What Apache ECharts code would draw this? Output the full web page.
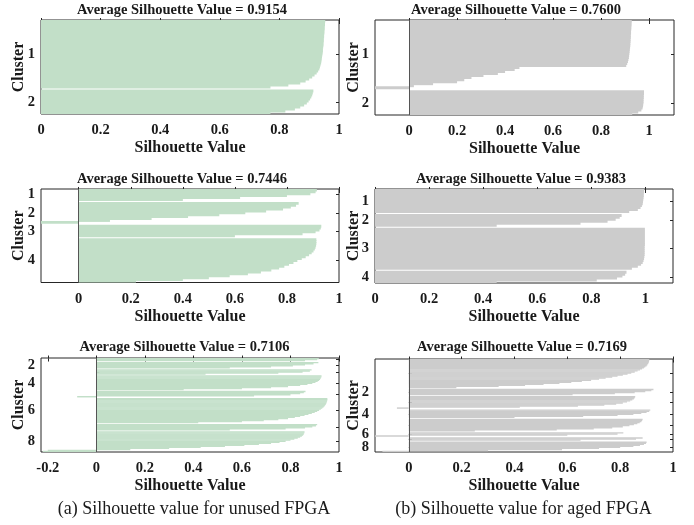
<!DOCTYPE html>
<html><head><meta charset="utf-8">
<script src="https://cdn.jsdelivr.net/npm/echarts@6/dist/echarts.min.js"></script>
<style>html,body{margin:0;padding:0;background:#fff}#c{width:694px;height:525px}</style>
</head><body><div id="c"></div>
<script>
// ---------- DATA (silhouette values per cluster, sorted as in the plot) ----------
const TITLES = ['Average Silhouette Value = 0.9154','Average Silhouette Value = 0.7600',
                'Average Silhouette Value = 0.7446','Average Silhouette Value = 0.9383',
                'Average Silhouette Value = 0.7106','Average Silhouette Value = 0.7169'];
const X_TICKS = [-0.2, 0, 0.2, 0.4, 0.6, 0.8, 1];
const CAPTIONS = ['(a) Silhouette value for unused FPGA', '(b) Silhouette value for aged FPGA'];

// Panel 1 (unused, k=2)
const u2_c1 = [0.954,0.953,0.953,0.952,0.952,0.951,0.951,0.950,0.950,0.949,0.949,0.948,0.948,0.947,0.946,0.946,
               0.945,0.944,0.943,0.942,0.941,0.940,0.938,0.936,0.934,0.930,0.925,0.918,0.910,0.900,0.888,0.870,0.830,0.770];
const u2_c2 = [0.914,0.912,0.910,0.907,0.903,0.898,0.892,0.883,0.870,0.852,0.820,0.770];
// Panel 2 (aged, k=2)
const a2_c1 = [0.928,0.927,0.927,0.926,0.926,0.925,0.925,0.924,0.924,0.923,0.923,0.922,0.922,0.921,0.920,0.919,
               0.918,0.917,0.916,0.914,0.912,0.909,0.905,0.46,0.44,0.40,0.37,0.31,0.26,0.23,0.20,0.10,0.02,-0.16];
const a2_c2 = [0.979,0.979,0.978,0.978,0.977,0.977,0.976,0.975,0.973,0.968,0.955,0.930];
// Panel 3 (unused, k=4)
const u4_c1 = [0.915,0.910,0.890,0.800,0.620,0.400];
const u4_c2 = [0.845,0.835,0.815,0.785,0.720,0.640,0.540,0.420,0.280,0.120,-0.200];
const u4_c3 = [0.932,0.930,0.925,0.910,0.860,0.600];
const u4_c4 = [0.913,0.913,0.913,0.912,0.910,0.907,0.902,0.895,0.885,0.872,0.857,0.840,0.825,0.808,0.790,0.770,
               0.740,0.700,0.650,0.580,0.500,0.400,0.220];
// Panel 4 (aged, k=4)
const a4_c1 = [0.995,0.995,0.994,0.994,0.993,0.992,0.991,0.990,0.987,0.982,0.972,0.940];
const a4_c2 = [0.912,0.905,0.890,0.860,0.760,0.450];
const a4_c3 = [0.998,0.998,0.998,0.998,0.998,0.998,0.998,0.998,0.998,0.997,0.997,0.997,0.997,0.997,0.996,0.995,
               0.993,0.990,0.984,0.972,0.950];
const a4_c4 = [0.930,0.925,0.915,0.895,0.820,0.450];
// Panel 5 (unused, k=8)
const u8_c1 = [0.917,0.910,0.860];
const u8_c2 = [0.915,0.895,0.860,0.810,0.720,0.550];
const u8_c3 = [0.887,0.880,0.850,0.750,0.450];
const u8_c4 = [0.928,0.927,0.925,0.922,0.918,0.912,0.903,0.890,0.870,0.840,0.790,0.720,0.600,0.360];
const u8_c5 = [0.862,0.855,0.840,0.800,0.650,-0.079];
const u8_c6 = [0.952,0.952,0.951,0.950,0.948,0.946,0.943,0.940,0.936,0.931,0.925,0.918,0.910,0.900,0.888,0.874,
               0.858,0.840,0.818,0.790,0.750,0.690,0.600,0.420];
const u8_c7 = [0.910,0.905,0.890,0.860,0.780,0.550];
const u8_c8 = [0.858,0.857,0.855,0.852,0.847,0.840,0.830,0.816,0.800,0.780,0.755,0.720,0.670,0.610,0.530,0.430,
               0.300,0.140,-0.200,-0.220];
// Panel 6 (aged, k=8)
const a8_c1 = [0.910,0.910,0.909,0.908,0.906,0.903,0.900,0.895,0.890,0.883,0.875,0.866,0.855,0.842,0.828,0.810,
               0.790,0.770,0.745,0.720,0.690,0.655,0.615,0.570,0.510,0.440,0.340,0.180];
const a8_c2 = [0.926,0.918,0.895,0.855,0.780,0.620];
const a8_c3 = [0.857,0.855,0.852,0.846,0.838,0.826,0.810,0.785,0.740,0.640,0.420,-0.045];
const a8_c4 = [0.914,0.910,0.900,0.880,0.850,0.790,0.660,0.400];
const a8_c5 = [0.885,0.883,0.880,0.874,0.865,0.852,0.835,0.810,0.770,0.700,0.560,0.250];
const a8_c6 = [0.812,0.790,0.600,-0.160];
const a8_c7 = [0.885,0.860,0.650];
const a8_c8 = [0.900,0.898,0.890,0.875,0.850,0.800,0.720,0.580,0.300,-0.100];

const X_RANGES = [[0,1],[-0.142,1.104],[-0.145,1],[0,1.102],[-0.228,1],[-0.128,1]];
const CLUSTER_LABELS_SHOWN = [[1,2],[1,2],[1,2,3,4],[1,2,3,4],[2,4,6,8],[2,4,6,8]];

// ---------- STYLE / LAYOUT ----------
const GREEN = '#c2dfc8', GRAY = '#cccccc', INK = '#1a1a1a';
const FONT = '"Liberation Serif", "Times New Roman", serif';
const LAYOUT = [
  {box:[41,20,298,94],  tx:182,   ty:10,    color:GREEN, bw:'150%'},
  {box:[375,20,299,95], tx:516,   ty:10,    color:GRAY,  bw:'150%'},
  {box:[41,189,298,93.5], tx:182, ty:179,   color:GREEN, bw:'150%'},
  {box:[375,189,298,94], tx:521,  ty:179.5, color:GRAY,  bw:'150%'},
  {box:[41,358,298,94], tx:184.5, ty:347.5, color:GREEN, bw:'140%'},
  {box:[375,359,298,93], tx:522,  ty:347,   color:GRAY,  bw:'140%'}
];
const CLUSTERS = [[u2_c1,u2_c2],[a2_c1,a2_c2],[u4_c1,u4_c2,u4_c3,u4_c4],[a4_c1,a4_c2,a4_c3,a4_c4],
  [u8_c1,u8_c2,u8_c3,u8_c4,u8_c5,u8_c6,u8_c7,u8_c8],[a8_c1,a8_c2,a8_c3,a8_c4,a8_c5,a8_c6,a8_c7,a8_c8]];

const option = {animation:false, backgroundColor:'#fff', grid:[], xAxis:[], yAxis:[], series:[], graphic:[]};
const fmtX = v => String(Math.round(v*10)/10);
const tickStyle = {color:'#262626', width:1};

CLUSTERS.forEach((clusters, i) => {
  const L = LAYOUT[i];
  const rows = [], centers = [];
  clusters.forEach((c, k) => {
    if (k) rows.push(null);
    const s = rows.length;
    c.forEach(v => rows.push(v));
    centers.push((s + rows.length - 1) / 2);
  });
  const N = rows.length;
  const [xmin, xmax] = X_RANGES[i];
  const xt = X_TICKS.filter(v => v >= xmin - 1e-9 && v <= xmax + 1e-9);
  option.grid.push({left:L.box[0], top:L.box[1], width:L.box[2], height:L.box[3], show:true,
                    borderColor:'#262626', borderWidth:1, backgroundColor:'#fff'});
  const xi = option.xAxis.length;
  option.xAxis.push({type:'value', gridIndex:i, min:xmin, max:xmax, position:'bottom',
    axisLine:{show:false}, splitLine:{show:false},
    axisTick:{show:true, inside:true, length:3, customValues:xt, lineStyle:tickStyle},
    axisLabel:{customValues:xt, formatter:fmtX, fontFamily:FONT, fontWeight:'bold', fontSize:14.5, color:INK, margin:9}});
  option.xAxis.push({type:'value', gridIndex:i, min:xmin, max:xmax, position:'top',
    axisLine:{show:false}, splitLine:{show:false},
    axisTick:{show:true, inside:true, length:3, customValues:xt, lineStyle:tickStyle}, axisLabel:{show:false}});
  const yi = option.yAxis.length;
  option.yAxis.push({type:'category', gridIndex:i, inverse:true, data:rows.map((_, j) => String(j)), show:false});
  const shown = CLUSTER_LABELS_SHOWN[i].map(n => centers[n-1]);
  const fmtY = v => { let b = 0; centers.forEach((c, k) => { if (Math.abs(c - v) < Math.abs(centers[b] - v)) b = k; }); return String(b + 1); };
  const labelStyle = {formatter:fmtY, fontFamily:FONT, fontWeight:'bold', fontSize:14.5, color:INK, margin:6,
                      showMinLabel:true, showMaxLabel:true};
  // labels split over two overlaid left axes so close labels are never dropped
  option.yAxis.push({type:'value', gridIndex:i, inverse:true, min:-0.5, max:N-0.5, position:'left',
    axisLine:{show:false}, splitLine:{show:false},
    axisTick:{show:true, inside:true, length:3, customValues:centers, lineStyle:tickStyle},
    axisLabel:Object.assign({customValues:shown.filter((_, j) => j % 2 === 0)}, labelStyle)});
  option.yAxis.push({type:'value', gridIndex:i, inverse:true, min:-0.5, max:N-0.5, position:'left', offset:0,
    axisLine:{show:false}, splitLine:{show:false}, axisTick:{show:false},
    axisLabel:Object.assign({customValues:shown.filter((_, j) => j % 2 === 1)}, labelStyle)});
  option.yAxis.push({type:'value', gridIndex:i, inverse:true, min:-0.5, max:N-0.5, position:'right',
    axisLine:{show:false}, splitLine:{show:false},
    axisTick:{show:true, inside:true, length:3, customValues:centers, lineStyle:tickStyle}, axisLabel:{show:false}});
  const s = {type:'bar', xAxisIndex:xi, yAxisIndex:yi, data:rows, barWidth:L.bw, barGap:'0%',
    itemStyle:{color:L.color, borderWidth:0}, silent:true};
  if (xmin < 0) {
    s.markLine = {silent:true, symbol:['none','none'], label:{show:false},
      lineStyle:{color:'#555', width:1, type:'solid'}, data:[{xAxis:0}]};
  }
  option.series.push(s);

  const cx = L.box[0] + L.box[2] / 2, cy = L.box[1] + L.box[3] / 2, bottom = L.box[1] + L.box[3];
  option.graphic.push({type:'text', x:L.tx, y:L.ty, style:{text:TITLES[i], font:'bold 14.5px ' + FONT, fill:INK,
    align:'center', verticalAlign:'middle', textAlign:'center', textVerticalAlign:'middle'}});
  option.graphic.push({type:'text', x:cx, y:bottom + 34, style:{text:'Silhouette Value', font:'bold 16px ' + FONT, fill:INK,
    align:'center', verticalAlign:'middle', textAlign:'center', textVerticalAlign:'middle'}});
  option.graphic.push({type:'text', x:(i % 2 ? 354 : 19), y:cy, rotation:Math.PI/2, style:{text:'Cluster', font:'bold 16px ' + FONT, fill:INK,
    align:'center', verticalAlign:'middle', textAlign:'center', textVerticalAlign:'middle'}});
});
option.graphic.push({type:'text', x:194, y:509, style:{text:CAPTIONS[0], font:'18px ' + FONT, fill:INK,
  align:'center', verticalAlign:'middle', textAlign:'center', textVerticalAlign:'middle'}});
option.graphic.push({type:'text', x:523.5, y:509, style:{text:CAPTIONS[1], font:'18px ' + FONT, fill:INK,
  align:'center', verticalAlign:'middle', textAlign:'center', textVerticalAlign:'middle'}});

const chart = echarts.init(document.getElementById('c'), null, {renderer:'canvas'});
chart.setOption(option);
</script>
</body></html>
